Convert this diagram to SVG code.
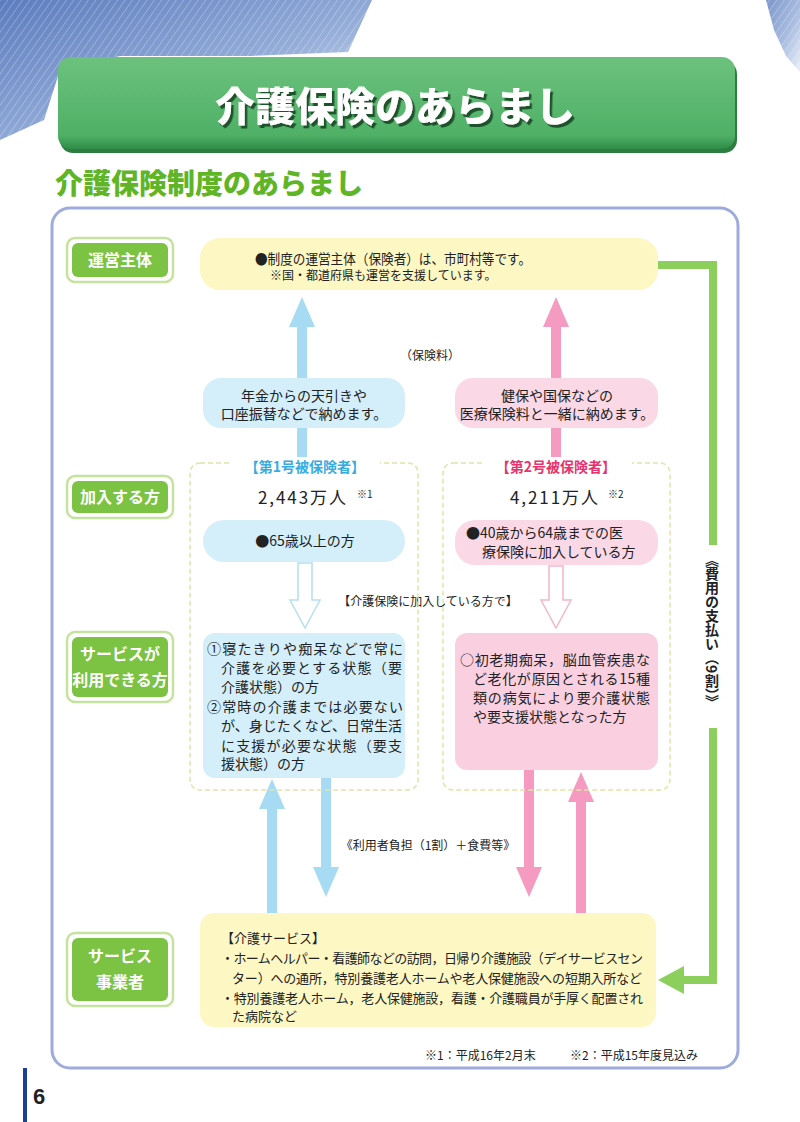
<svg xmlns="http://www.w3.org/2000/svg" width="800" height="1122" viewBox="0 0 800 1122">
<defs>
<linearGradient id="sky" x1="0" y1="0" x2="1" y2="1">
<stop offset="0" stop-color="#5b7cbe"/>
<stop offset="0.55" stop-color="#93acd8"/>
<stop offset="1" stop-color="#e6ecf7"/>
</linearGradient>
<pattern id="streak" width="6" height="6" patternUnits="userSpaceOnUse" patternTransform="rotate(35)">
<line x1="0" y1="0" x2="0" y2="6" stroke="#ffffff" stroke-width="1" stroke-opacity="0.5"/>
</pattern>
<linearGradient id="banner" x1="0" y1="0" x2="0" y2="1">
<stop offset="0" stop-color="#6cc27d"/>
<stop offset="0.85" stop-color="#4fb066"/>
<stop offset="1" stop-color="#2f8c48"/>
</linearGradient>
<filter id="shadow" x="-10%" y="-20%" width="120%" height="150%">
<feDropShadow dx="2.5" dy="3" stdDeviation="0.6" flood-color="#1a532b" flood-opacity="1"/>
</filter>
</defs>
<style>
text{font-family:"Noto Sans CJK JP","Noto Sans CJK SC",sans-serif;fill:#222;}
.lbl-o{fill:#ffffff;stroke:#c5e29e;stroke-width:2.5;}
.lbl-i{fill:#7cc243;}
.lbl-t{fill:#ffffff;font-size:16px;font-weight:700;text-anchor:middle;}
.yel{fill:#fdf7c3;}
.blu{fill:#d4eefa;}
.pnk{fill:#fbd8e6;}
.dash{fill:none;stroke:#dfe6a6;stroke-width:1.5;stroke-dasharray:5 3;}
.ba{fill:#a6dbf3;}
.pa{fill:#f59ac0;}
.t14{font-size:14px;}
.t13{font-size:13px;}
.t12{font-size:12px;}
.mid{text-anchor:middle;}
</style>

<g id="background">
<rect x="0" y="0" width="800" height="1122" fill="#ffffff"/>
<polygon points="0,0 372,0 348,52 250,56 120,56 60,70 44,120 0,140" fill="url(#sky)"/>
<polygon points="0,0 372,0 348,52 250,56 120,56 60,70 44,120 0,140" fill="url(#streak)"/>
<polygon points="766,0 800,0 800,72 786,56 774,30" fill="url(#sky)" opacity="0.8"/>
<polygon points="766,0 800,0 800,72 786,56 774,30" fill="url(#streak)"/>
</g>

<g id="title">
<rect x="60" y="61" width="677" height="92" rx="13" fill="#2c7d40"/>
<rect x="58" y="57" width="677" height="92" rx="13" fill="url(#banner)"/>
<text x="395" y="121" font-size="40" font-weight="900" text-anchor="middle" filter="url(#shadow)" style="fill:#ffffff">介護保険のあらまし</text>
</g>

<g id="subtitle">
<text x="55" y="194" font-size="28" font-weight="900" style="fill:#5fb526">介護保険制度のあらまし</text>
</g>

<g id="panel">
<rect x="52" y="208" width="686" height="860" rx="18" fill="#ffffff" stroke="#9eabdc" stroke-width="3"/>
</g>

<g id="connectors">
<path class="ba" d="M297,457 V327 H289 L302,297 L315,327 H307 V457 Z"/>
<path class="pa" d="M551,457 V327 H543 L556,297 L569,327 H561 V457 Z"/>
<path d="M298,563 V600 H290 L305,628 L320,600 H312 V563 Z" fill="#ffffff" stroke="#b5def2" stroke-width="1.5"/>
<path d="M549,566 V600 H541 L556,628 L571,600 H563 V566 Z" fill="#ffffff" stroke="#f5b5cb" stroke-width="1.5"/>
<path class="ba" d="M267,913 V809 H259 L272,779 L285,809 H277 V913 Z"/>
<path class="ba" d="M321,778 V867 H313 L326,897 L339,867 H331 V778 Z"/>
<path class="pa" d="M524,770 V867 H516 L529,897 L542,867 H534 V770 Z"/>
<path class="pa" d="M576,913 V802 H568 L581,772 L594,802 H586 V913 Z"/>
<path d="M655,265 H713 V545" fill="none" stroke="#8dcf5d" stroke-width="8"/>
<path d="M713,728 V980 H682" fill="none" stroke="#8dcf5d" stroke-width="8"/>
<polygon points="658,980 684,966 684,994" fill="#8dcf5d"/>
<text x="712" y="553" font-size="14" font-weight="700" style="writing-mode:vertical-rl">《費用の支払い（9割）》</text>
<text x="430" y="360" class="t12 mid">（保険料）</text>
<rect x="338" y="592" width="180" height="18" fill="#ffffff"/>
<text x="428" y="606" class="t12 mid">【介護保険に加入している方で】</text>
<text x="428" y="850" class="t12 mid">《利用者負担（1割）＋食費等》</text>
</g>

<g id="label-unei">
<rect class="lbl-o" x="67" y="238" width="106" height="44" rx="8"/>
<rect class="lbl-i" x="72" y="243" width="96" height="34" rx="6"/>
<text class="lbl-t" x="120" y="266">運営主体</text>
</g>
<g id="label-kanyu">
<rect class="lbl-o" x="67" y="476" width="106" height="42" rx="8"/>
<rect class="lbl-i" x="72" y="481" width="96" height="32" rx="6"/>
<text class="lbl-t" x="120" y="503">加入する方</text>
</g>
<g id="label-riyou">
<rect class="lbl-o" x="67" y="632" width="106" height="70" rx="8"/>
<rect class="lbl-i" x="72" y="637" width="96" height="60" rx="6"/>
<text class="lbl-t" x="120" y="660">サービスが</text>
<text class="lbl-t" x="120" y="686">利用できる方</text>
</g>
<g id="label-jigyo">
<rect class="lbl-o" x="67" y="933" width="106" height="73" rx="8"/>
<rect class="lbl-i" x="72" y="938" width="96" height="63" rx="6"/>
<text class="lbl-t" x="120" y="962">サービス</text>
<text class="lbl-t" x="120" y="988">事業者</text>
</g>

<g id="hokensha">
<rect class="yel" x="200" y="238" width="458" height="52" rx="20"/>
<text x="255" y="264" class="t14" textLength="276" lengthAdjust="spacingAndGlyphs">●制度の運営主体（保険者）は、市町村等です。</text>
<text x="270" y="280" class="t12">※国・都道府県も運営を支援しています。</text>
</g>

<g id="pay1">
<rect class="blu" x="203" y="378" width="202" height="50" rx="18"/>
<text x="304" y="401" class="t14 mid">年金からの天引きや</text>
<text x="304" y="419" class="t14 mid">口座振替などで納めます。</text>
</g>
<g id="pay2">
<rect class="pnk" x="455" y="378" width="203" height="50" rx="18"/>
<text x="557" y="401" class="t14 mid">健保や国保などの</text>
<text x="557" y="419" class="t14 mid">医療保険料と一緒に納めます。</text>
</g>

<g id="group1">
<rect class="dash" x="190" y="463" width="228" height="327" rx="10"/>
<rect x="230" y="457" width="150" height="20" fill="#ffffff"/>
<text x="305" y="472" font-size="14" font-weight="700" text-anchor="middle" style="fill:#38ace0">【第1号被保険者】</text>
<text x="258" y="504" font-size="17" textLength="88">2,443万人</text>
<text x="357" y="498" font-size="10">※1</text>
<rect class="blu" x="203" y="520" width="202" height="42" rx="21"/>
<text x="305" y="546" class="t14 mid">●65歳以上の方</text>
<rect class="blu" x="203" y="633" width="202" height="145" rx="12"/>
<text x="207" y="654" class="t14" textLength="196">①寝たきりや痴呆などで常に</text>
<text x="221" y="673" class="t14" textLength="181">介護を必要とする状態（要</text>
<text x="221" y="692" class="t14">介護状態）の方</text>
<text x="207" y="712" class="t14" textLength="196">②常時の介護までは必要ない</text>
<text x="221" y="731" class="t14" textLength="181">が、身じたくなど、日常生活</text>
<text x="221" y="751" class="t14" textLength="181">に支援が必要な状態（要支</text>
<text x="221" y="769" class="t14">援状態）の方</text>
</g>

<g id="group2">
<rect class="dash" x="443" y="463" width="227" height="327" rx="10"/>
<rect x="482" y="457" width="150" height="20" fill="#ffffff"/>
<text x="556" y="472" font-size="14" font-weight="700" text-anchor="middle" style="fill:#e6336d">【第2号被保険者】</text>
<text x="510" y="504" font-size="17" textLength="88">4,211万人</text>
<text x="608" y="498" font-size="10">※2</text>
<rect class="pnk" x="455" y="520" width="203" height="45" rx="20"/>
<text x="466" y="538" class="t14">●40歳から64歳までの医</text>
<text x="482" y="557" class="t14">療保険に加入している方</text>
<rect class="pnk" x="455" y="633" width="203" height="137" rx="12" style="fill:#fad0e1"/>
<text x="460" y="665" class="t14" textLength="190">○初老期痴呆，脳血管疾患な</text>
<text x="473" y="684" class="t14" textLength="177">ど老化が原因とされる15種</text>
<text x="473" y="703" class="t14" textLength="177">類の病気により要介護状態</text>
<text x="473" y="722" class="t14">や要支援状態となった方</text>
</g>

<g id="service">
<rect class="yel" x="200" y="913" width="456" height="114" rx="14"/>
<text x="221" y="943" class="t13">【介護サービス】</text>
<text x="221" y="963" class="t13" textLength="422">・ホームヘルパー・看護師などの訪問，日帰り介護施設（デイサービスセン</text>
<text x="232" y="983" class="t13" textLength="410">ター）への通所，特別養護老人ホームや老人保健施設への短期入所など</text>
<text x="221" y="1003" class="t13" textLength="422">・特別養護老人ホーム，老人保健施設，看護・介護職員が手厚く配置され</text>
<text x="232" y="1021" class="t13">た病院など</text>
</g>

<g id="footnote">
<text x="425" y="1060" class="t12">※1：平成16年2月末</text>
<text x="570" y="1060" class="t12">※2：平成15年度見込み</text>
</g>

<g id="page">
<rect x="23" y="1068" width="4" height="54" fill="#1c3f9a"/>
<text x="33" y="1104" font-size="22" font-weight="700" style="font-family:'Liberation Sans',sans-serif">6</text>
</g>
</svg>
